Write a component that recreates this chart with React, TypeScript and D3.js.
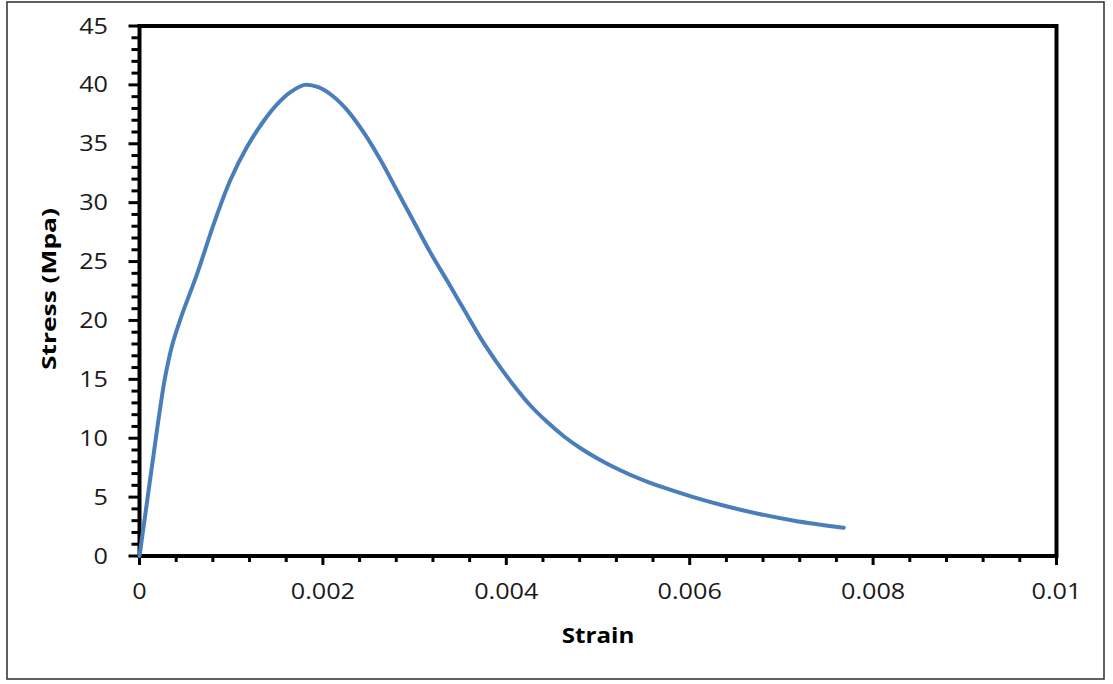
import React from "react";
import * as d3 from "d3";

const strain = [0, 0.0001, 0.0002, 0.00028, 0.00036, 0.00045, 0.00063, 0.00081, 0.00099, 0.00117, 0.00136, 0.0015, 0.00165, 0.0018, 0.00195, 0.0021, 0.00226, 0.00245, 0.00263, 0.00281, 0.00299, 0.00317, 0.00336, 0.00354, 0.00372, 0.0039, 0.00408, 0.00426, 0.00445, 0.00463, 0.00481, 0.00499, 0.00517, 0.00535, 0.00554, 0.00572, 0.00604, 0.00641, 0.00677, 0.00714, 0.00768];
const stress = [0, 5.6, 11.2, 15.2, 18.0, 20.2, 24.0, 28.2, 31.9, 34.7, 37.0, 38.35, 39.4, 40.0, 39.8, 39.1, 37.9, 35.9, 33.6, 31.0, 28.4, 25.8, 23.3, 20.9, 18.5, 16.4, 14.5, 12.8, 11.35, 10.15, 9.15, 8.3, 7.55, 6.9, 6.3, 5.8, 5.0, 4.2, 3.55, 3.0, 2.4];

const xTicks = [0, 0.002, 0.004, 0.006, 0.008, 0.01];
const xTickLabels = ["0", "0.002", "0.004", "0.006", "0.008", "0.01"];
const yTicks = [0, 5, 10, 15, 20, 25, 30, 35, 40, 45];
const yTickLabels = ["0", "5", "10", "15", "20", "25", "30", "35", "40", "45"];
const xTitle = "Strain";
const yTitle = "Stress (Mpa)";

export default function App() {
  const W = 1113, H = 684;
  const L = 139.5, R = 1056.5, T = 26, B = 556;
  const x = d3.scaleLinear().domain([0, 0.01]).range([L, R]);
  const y = d3.scaleLinear().domain([0, 45]).range([B, T]);
  const pts = strain.map((s, i) => [s, stress[i]] as [number, number]);
  const line = d3.line<[number, number]>().x(d => x(d[0])).y(d => y(d[1])).curve(d3.curveCatmullRom.alpha(0.5));
  const xMinor = d3.range(0, 26).map(i => i * 0.0004);
  const yMinor = d3.range(0, 46);
  const font = "'Open Sans', 'DejaVu Sans', sans-serif";
  const lblColor = "#1a1a1a";
  const sx = 1.2;
  return (
    <svg width={W} height={H} style={{ position: "absolute", left: 0, top: 0, background: "#fff" }}>
      <rect x={7} y={2} width={1097} height={677} fill="#fff" stroke="#3a3a3a" strokeWidth={1.6} />
      <rect x={L} y={T} width={R - L} height={B - T} fill="none" stroke="#000" strokeWidth={4} />
      {yMinor.map(v => (
        <line key={"ym" + v} x1={v % 5 === 0 ? L - 11 : L - 8} x2={L} y1={y(v)} y2={y(v)} stroke="#000" strokeWidth={3} />
      ))}
      {xMinor.map((v, i) => (
        <line key={"xm" + i} x1={x(v)} x2={x(v)} y1={B} y2={i % 5 === 0 ? B + 9 : B + 6} stroke="#000" strokeWidth={3} />
      ))}
      <path d={line(pts) || ""} fill="none" stroke="#4a7ebb" strokeWidth={4} strokeLinecap="round" strokeLinejoin="round" />
      {yTicks.map((v, i) => (
        <g key={"yl" + v} transform={`translate(108,${y(v)}) scale(${sx},1)`}>
          <text x={0} y={0} dy="0.36em" textAnchor="end" fontFamily={font} fontSize={21} fill={lblColor}>{yTickLabels[i]}</text>
        </g>
      ))}
      {xTicks.map((v, i) => (
        <g key={"xl" + v} transform={`translate(${x(v)},591) scale(${sx},1)`}>
          <text x={0} y={0} dy="0.36em" textAnchor="middle" fontFamily={font} fontSize={21} fill={lblColor}>{xTickLabels[i]}</text>
        </g>
      ))}
      <g transform={`translate(598,643) scale(1.15,1)`}>
        <text x={0} y={0} textAnchor="middle" fontFamily={font} fontWeight="bold" fontSize={21} fill="#000">{xTitle}</text>
      </g>
      <g transform={`translate(56,289) rotate(-90)`}>
        <text x={0} y={0} textAnchor="middle" fontFamily={font} fontWeight="bold" fontSize={20} fill="#000" textLength={162} lengthAdjust="spacingAndGlyphs">{yTitle}</text>
      </g>
    </svg>
  );
}
